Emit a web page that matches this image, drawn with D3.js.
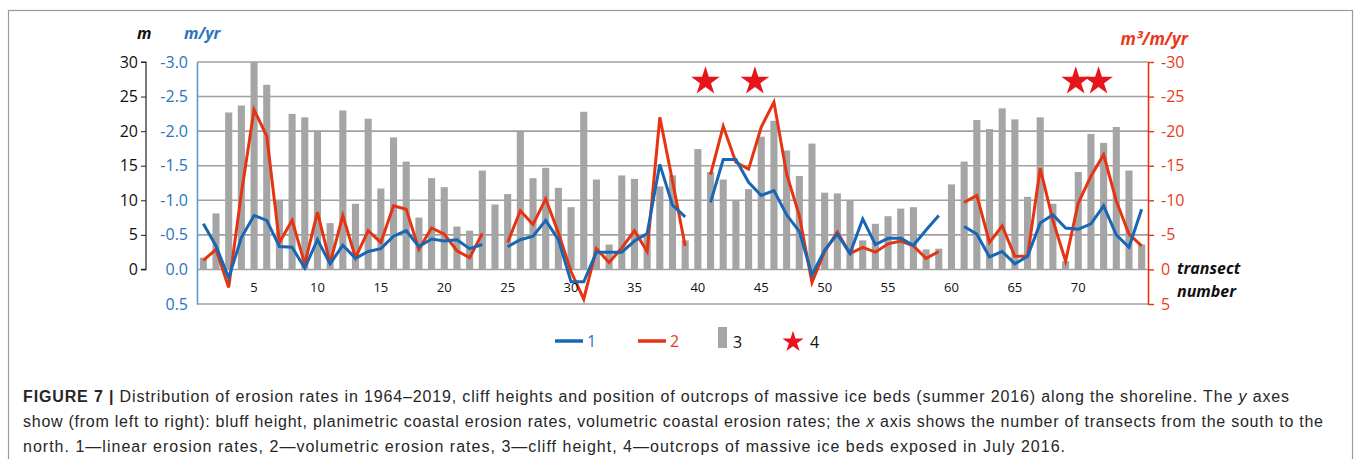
<!DOCTYPE html>
<html><head><meta charset="utf-8">
<script src="https://cdn.jsdelivr.net/npm/d3@7"></script>
<style>
html,body{margin:0;padding:0;background:#fff;}
svg{display:block;}
</style></head>
<body>
<svg id="chart" width="1354" height="459"></svg>
<script>
// ---- data ----
const transects = d3.range(1, 76);
const cliffHeight = [1.7,8.1,22.7,23.7,30.0,26.7,9.9,22.5,22.0,20.1,6.7,23.0,9.5,21.8,11.7,19.1,15.6,7.5,13.2,11.9,
  6.2,5.6,14.3,9.4,10.9,19.9,13.2,14.7,11.8,9.0,22.8,13.0,3.6,13.6,13.1,5.0,12.0,13.6,4.2,17.4,
  14.1,13.0,9.9,11.6,19.2,21.5,17.2,13.5,18.2,11.1,11.0,10.0,4.2,6.6,7.7,8.8,9.0,2.9,3.0,12.3,
  15.6,21.6,20.3,23.3,21.7,10.5,22.0,9.5,1.2,14.1,19.6,18.3,20.6,14.3,3.6];
const linearRate = [-0.66,-0.34,0.12,-0.46,-0.78,-0.71,-0.33,-0.32,-0.02,-0.43,-0.08,-0.35,-0.16,-0.26,-0.30,-0.48,-0.56,-0.33,-0.44,-0.41,
  -0.43,-0.30,-0.36,null,-0.33,-0.43,-0.48,-0.71,-0.43,0.18,0.18,-0.25,-0.25,-0.25,-0.41,-0.52,-1.52,-0.93,-0.76,null,
  -0.97,-1.59,-1.59,-1.26,-1.07,-1.14,-0.79,-0.55,0.08,-0.28,-0.51,-0.23,-0.73,-0.36,-0.45,-0.45,-0.35,-0.57,-0.78,null,
  -0.62,-0.51,-0.18,-0.26,-0.08,-0.19,-0.67,-0.79,-0.60,-0.58,-0.66,-0.92,-0.50,-0.32,-0.87];
const volumetricRate = [-1.3,-2.9,2.6,-11.0,-23.1,-19.3,-3.9,-7.1,-0.8,-8.3,-0.9,-7.8,-1.7,-5.6,-3.9,-9.2,-8.7,-2.9,-6.0,-5.1,
  -2.7,-1.7,-5.2,null,-3.9,-8.5,-6.5,-10.2,-5.3,0.3,4.3,-3.0,-1.0,-3.1,-5.6,-2.6,-22.0,-12.8,-3.4,null,
  -13.7,-20.7,-15.5,-14.5,-20.6,-24.2,-13.8,-7.8,1.9,-2.6,-5.4,-2.3,-3.2,-2.5,-3.7,-4.1,-3.4,-1.6,-2.6,null,
  -9.7,-10.7,-3.9,-6.3,-1.9,-1.9,-14.6,-7.1,-1.2,-9.6,-13.5,-16.6,-9.9,-5.1,-3.4];
const starTransects = [40.6, 44.5, 69.8, 71.6];
const starLevel = 27.2; // m, on the height axis
const xTickValues = [5,10,15,20,25,30,35,40,45,50,55,60,65,70];
const heightTicks = [0,5,10,15,20,25,30];
const linearTicks = [-3.0,-2.5,-2.0,-1.5,-1.0,-0.5,0.0,0.5];
const volumetricTicks = [-30,-25,-20,-15,-10,-5,0,5];
const legendLabels = ["1","2","3","4"];
const captionLines = [
  [{t:"FIGURE 7 | ",b:true},{t:"Distribution of erosion rates in 1964–2019, cliff heights and position of outcrops of massive ice beds (summer 2016) along the shoreline. The "},{t:"y",i:true},{t:" axes"}],
  [{t:"show (from left to right): bluff height, planimetric coastal erosion rates, volumetric coastal erosion rates; the "},{t:"x",i:true},{t:" axis shows the number of transects from the south to the"}],
  [{t:"north. 1—linear erosion rates, 2—volumetric erosion rates, 3—cliff height, 4—outcrops of massive ice beds exposed in July 2016."}]
];
const captionWidths = [1266, 1300, 1042];

// ---- styles ----
const BLUE = "#1767b4", BLUE_AX = "#5b9bd5", BLUE_TXT = "#2a74c0";
const RED = "#e63312", RED_TXT = "#e83a1b";
const BAR = "#a5a5a5", GRID = "#a0a0a0";
const FONT = "'Open Sans','Noto Sans',sans-serif";
const hy = f => (d => f(d).replace("−", "-"));

const svg = d3.select("#chart");
const L = 197, R = 1148, T = 62, B = 304;

const x = d3.scaleLinear().domain([0.5, 75.5]).range([L, R]);
const yM = d3.scaleLinear().domain([-5, 30]).range([B, T]);
const yB = d3.scaleLinear().domain([0.5, -3.0]).range([B, T]);
const yR = d3.scaleLinear().domain([5, -30]).range([B, T]);
const bw = (x(2) - x(1)) * 0.56;

// outer frame
svg.append("rect").attr("x", 8.5).attr("y", 10.5).attr("width", 1344).attr("height", 470)
  .attr("fill", "none").attr("stroke", "#9a9a9a").attr("stroke-width", 1.2);

// gridlines
svg.append("g").selectAll("line").data(heightTicks.concat([-5])).join("line")
  .attr("x1", L).attr("x2", R).attr("y1", d => yM(d)).attr("y2", d => yM(d))
  .attr("stroke", GRID).attr("stroke-width", 1.6);

// bars
svg.append("g").selectAll("rect").data(transects).join("rect")
  .attr("x", d => x(d) - bw / 2).attr("width", bw)
  .attr("y", (d, i) => yM(cliffHeight[i])).attr("height", (d, i) => yM(0) - yM(cliffHeight[i]))
  .attr("fill", BAR);

// lines
const lineB = d3.line().defined(d => d[1] !== null).x(d => x(d[0])).y(d => yB(d[1]));
const lineR = d3.line().defined(d => d[1] !== null).x(d => x(d[0])).y(d => yR(d[1]));
svg.append("path").datum(transects.map((t, i) => [t, volumetricRate[i]]))
  .attr("d", lineR).attr("fill", "none").attr("stroke", RED).attr("stroke-width", 3).attr("stroke-linejoin", "miter");
svg.append("path").datum(transects.map((t, i) => [t, linearRate[i]]))
  .attr("d", lineB).attr("fill", "none").attr("stroke", BLUE).attr("stroke-width", 3).attr("stroke-linejoin", "miter");

// stars
const star = d3.symbol().type(d3.symbolStar).size(255);
svg.append("g").selectAll("path").data(starTransects).join("path")
  .attr("d", star).attr("transform", d => `translate(${x(d)},${yM(starLevel)})`).attr("fill", "#e8141b");

// x tick labels
svg.append("g").selectAll("text").data(xTickValues).join("text")
  .attr("x", d => x(d)).attr("y", 292).attr("text-anchor", "middle")
  .attr("font-family", FONT).attr("font-size", 13).attr("fill", "#111").text(d => d);

// left (height) axis
const axM = svg.append("g").attr("transform", "translate(146,0)")
  .call(d3.axisLeft(d3.scaleLinear().domain([0, 30]).range([yM(0), yM(30)])).tickValues(heightTicks).tickSize(5).tickPadding(3));
axM.select(".domain").attr("stroke", "#222").attr("stroke-width", 1.2).attr("d", `M-5,${yM(0)}H0V${yM(30)}H-5`);
axM.selectAll(".tick line").attr("stroke", "#222");
axM.selectAll("text").attr("font-family", FONT).attr("font-size", 16).attr("fill", "#111");

// blue axis
const axB = svg.append("g").attr("transform", `translate(${L},0)`)
  .call(d3.axisLeft(yB).tickValues(linearTicks).tickSize(0).tickPadding(9).tickFormat(hy(d3.format(".1f"))));
axB.select(".domain").attr("stroke", BLUE_AX).attr("stroke-width", 1.6);
axB.selectAll("text").attr("font-family", FONT).attr("font-size", 16).attr("fill", BLUE_TXT);

// red axis
const axR = svg.append("g").attr("transform", `translate(${R},0)`)
  .call(d3.axisRight(yR).tickValues(volumetricTicks).tickSize(6).tickPadding(7).tickSizeOuter(0).tickFormat(hy(d3.format("d"))));
axR.select(".domain").attr("stroke", RED).attr("stroke-width", 1.6);
axR.selectAll(".tick line").attr("stroke", RED).attr("stroke-width", 1.4);
axR.selectAll("text").attr("font-family", FONT).attr("font-size", 16).attr("fill", RED_TXT);

// unit labels
const lab = (tx, xx, yy, col, anchor, fs) => svg.append("text").attr("x", xx).attr("y", yy)
  .attr("text-anchor", anchor || "start").attr("font-family", FONT).attr("font-size", fs || 16)
  .attr("font-weight", "bold").attr("font-style", "italic").attr("fill", col).text(tx);
lab("m", 137, 39, "#111");
lab("m/yr", 184, 39, BLUE_TXT);
lab("m³/m/yr", 1188, 45, RED_TXT, "end", 17);
lab("transect", 1177, 274, "#111");
lab("number", 1177, 297, "#111");

// legend
const lg = svg.append("g").attr("font-family", FONT).attr("font-size", 16);
lg.append("line").attr("x1", 555).attr("x2", 583).attr("y1", 341).attr("y2", 341).attr("stroke", BLUE).attr("stroke-width", 3.5);
lg.append("text").attr("x", 587).attr("y", 347).attr("fill", BLUE_TXT).text(legendLabels[0]);
lg.append("line").attr("x1", 638).attr("x2", 666).attr("y1", 341).attr("y2", 341).attr("stroke", RED).attr("stroke-width", 3.5);
lg.append("text").attr("x", 670).attr("y", 347).attr("fill", RED_TXT).text(legendLabels[1]);
lg.append("rect").attr("x", 718).attr("y", 327).attr("width", 9).attr("height", 21).attr("fill", BAR);
lg.append("text").attr("x", 733).attr("y", 348).attr("fill", "#111").text(legendLabels[2]);
lg.append("path").attr("d", d3.symbol().type(d3.symbolStar).size(140)).attr("transform", "translate(793,342)").attr("fill", "#e8141b");
lg.append("text").attr("x", 810).attr("y", 348).attr("fill", "#111").text(legendLabels[3]);

// caption
const cap = svg.append("g").attr("font-family", "'Liberation Sans',Arial,sans-serif").attr("font-size", 16).attr("fill", "#262626");
captionLines.forEach((ln, k) => {
  const t = cap.append("text").attr("x", 23).attr("y", 402 + k * 25)
    .attr("textLength", captionWidths[k]).attr("lengthAdjust", "spacing");
  ln.forEach(s => t.append("tspan").attr("font-weight", s.b ? "bold" : null).attr("font-style", s.i ? "italic" : null).text(s.t));
});
</script>
</body></html>
